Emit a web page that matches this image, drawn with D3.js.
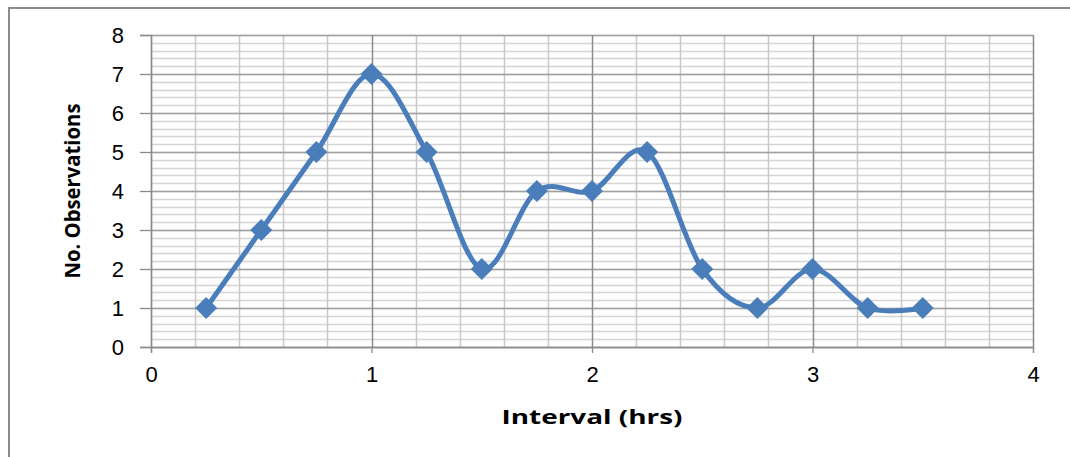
<!DOCTYPE html>
<html>
<head>
<meta charset="utf-8">
<script src="https://cdn.jsdelivr.net/npm/d3@7"></script>
<style>
  body { margin: 0; background: #fff; }
  svg { display: block; font-family: "Open Sans", "Liberation Sans", sans-serif; }
</style>
</head>
<body>
<div id="chart"></div>
<script>
// interval (hrs) and number of observations
var intervals = [0.25, 0.5, 0.75, 1, 1.25, 1.5, 1.75, 2, 2.25, 2.5, 2.75, 3, 3.25, 3.5];
var observations = [1, 3, 5, 7, 5, 2, 4, 4, 5, 2, 1, 2, 1, 1];
var xTicks = [0, 1, 2, 3, 4];
var yTicks = [0, 1, 2, 3, 4, 5, 6, 7, 8];

var W = 1070, H = 457;
var margin = { top: 35, right: 37, bottom: 110, left: 151 };
var width = W - margin.left - margin.right,
    height = H - margin.top - margin.bottom;

var lineColor = "#4A7EBB";

var root = d3.select("#chart")
    .append("svg")
    .attr("width", W)
    .attr("height", H);

// outer frame (only top and left edges visible)
root.append("path")
    .attr("d", "M9,457 V8 H1070")
    .attr("fill", "none")
    .attr("stroke", "#8c8c8c")
    .attr("stroke-width", 2);

var svg = root.append("g")
    .attr("transform", "translate(" + margin.left + "," + margin.top + ")");

var x = d3.scaleLinear().domain([0, 4]).range([0, width]);
var y = d3.scaleLinear().domain([0, 8]).range([height, 0]);

// minor grid every 0.2
var minorX = d3.range(0, 4.001, 0.2);
var minorY = d3.range(0, 8.001, 0.2);

svg.append("g").selectAll("line")
    .data(minorY)
    .join("line")
    .attr("x1", 0).attr("x2", width)
    .attr("y1", d => Math.round(y(d)) + 0.5).attr("y2", d => Math.round(y(d)) + 0.5)
    .attr("stroke", "#d4d4d4").attr("stroke-width", 1.3);

svg.append("g").selectAll("line")
    .data(minorX)
    .join("line")
    .attr("y1", 0).attr("y2", height)
    .attr("x1", d => Math.round(x(d)) + 0.5).attr("x2", d => Math.round(x(d)) + 0.5)
    .attr("stroke", "#c8c8c8").attr("stroke-width", 1.5);

// major grid
svg.append("g").selectAll("line")
    .data(yTicks)
    .join("line")
    .attr("x1", 0).attr("x2", width)
    .attr("y1", d => Math.round(y(d)) + 0.5).attr("y2", d => Math.round(y(d)) + 0.5)
    .attr("stroke", "#a0a0a0").attr("stroke-width", 1.3);

svg.append("g").selectAll("line")
    .data(xTicks)
    .join("line")
    .attr("y1", 0).attr("y2", height)
    .attr("x1", d => Math.round(x(d)) + 0.5).attr("x2", d => Math.round(x(d)) + 0.5)
    .attr("stroke", "#8a8a8a").attr("stroke-width", 1.3);

// axes
var yAxis = d3.axisLeft(y).tickValues(yTicks).tickFormat(d3.format("d")).tickSize(11).tickPadding(16);
var gy = svg.append("g").call(yAxis);
gy.select(".domain").attr("stroke", "#8a8a8a").attr("stroke-width", 1.3);
gy.selectAll(".tick line").attr("stroke", "#8a8a8a").attr("stroke-width", 1.3);
gy.selectAll("text").attr("font-size", 22).attr("fill", "#000");

var xAxis = d3.axisBottom(x).tickValues(xTicks).tickFormat(d3.format("d")).tickSize(6).tickPadding(13);
var gx = svg.append("g")
    .attr("transform", "translate(0," + height + ")")
    .call(xAxis);
gx.select(".domain").attr("stroke", "#8a8a8a").attr("stroke-width", 1.3);
gx.selectAll(".tick line").attr("stroke", "#8a8a8a").attr("stroke-width", 1.3);
gx.selectAll("text").attr("font-size", 22).attr("fill", "#000");

// axis titles
svg.append("text")
    .attr("x", x(2))
    .attr("y", height + 77)
    .attr("text-anchor", "middle")
    .attr("font-size", 19)
    .attr("font-weight", "bold")
    .attr("textLength", 181)
    .attr("lengthAdjust", "spacingAndGlyphs")
    .text("Interval (hrs)");

svg.append("text")
    .attr("transform", "translate(" + (-71) + "," + y(4) + ") rotate(-90)")
    .attr("text-anchor", "middle")
    .attr("font-size", 22)
    .attr("font-weight", "bold")
    .attr("textLength", 175)
    .attr("lengthAdjust", "spacingAndGlyphs")
    .text("No. Observations");

// smoothed line
var dataset = intervals.map((d, i) => ({ x: d, y: observations[i] }));

svg.append("path")
    .datum(dataset)
    .attr("fill", "none")
    .attr("stroke", lineColor)
    .attr("stroke-width", 5)
    .attr("d", d3.line()
        .x(d => x(d.x))
        .y(d => y(d.y))
        .curve(d3.curveCardinal.tension(0)));

// diamond markers
svg.append("g").selectAll("path")
    .data(dataset)
    .join("path")
    .attr("transform", d => "translate(" + x(d.x) + "," + y(d.y) + ")")
    .attr("d", "M0,-11 L11,0 L0,11 L-11,0 Z")
    .attr("fill", lineColor);
</script>
</body>
</html>
